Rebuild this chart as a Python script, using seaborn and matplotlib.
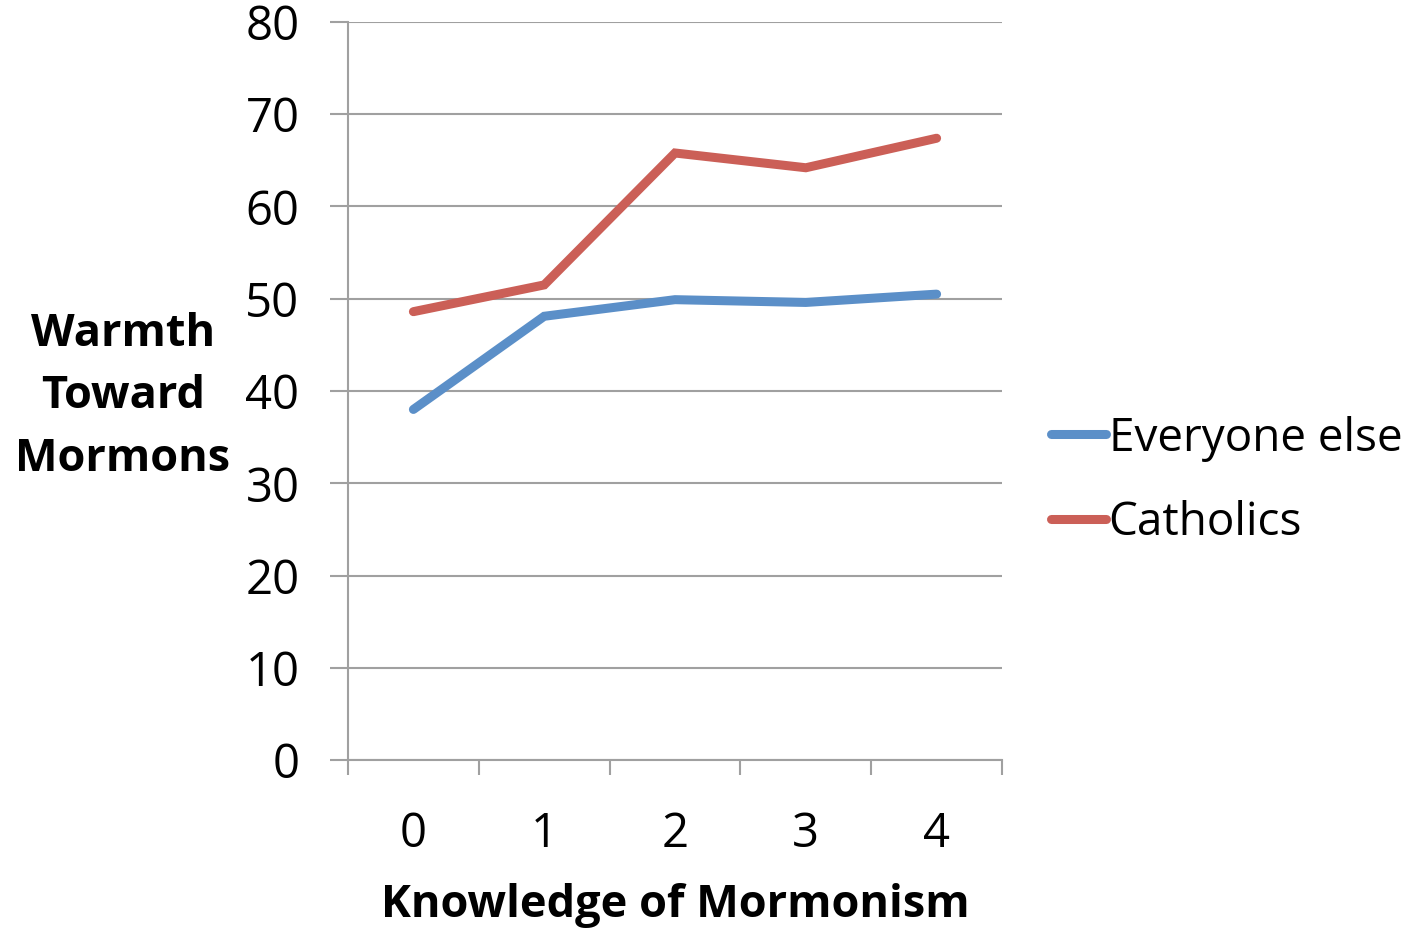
import pandas as pd
import matplotlib
matplotlib.use("Agg")
import matplotlib.pyplot as plt
import seaborn as sns
from matplotlib.ticker import FixedLocator, NullFormatter

# data
knowledge = [0, 1, 2, 3, 4]
everyone_else = [38.0, 48.1, 49.9, 49.6, 50.5]
catholics = [48.6, 51.5, 65.8, 64.2, 67.4]
series_names = ["Everyone else", "Catholics"]
colors = ["#5B8FC8", "#CB5F57"]
y_ticks = [0, 10, 20, 30, 40, 50, 60, 70, 80]

df = pd.DataFrame({
    "knowledge": knowledge * 2,
    "warmth": everyone_else + catholics,
    "group": [series_names[0]] * 5 + [series_names[1]] * 5,
})

sns.set_style("white")
plt.rcParams["font.family"] = ["Open Sans", "DejaVu Sans"]
plt.rcParams["text.color"] = "black"
plt.rcParams["xtick.labelcolor"] = "black"
plt.rcParams["ytick.labelcolor"] = "black"

fig = plt.figure(figsize=(14.14, 9.30), dpi=100)
ax = fig.add_axes([348 / 1414, 1 - 760 / 930, (1002 - 348) / 1414, (760 - 22) / 930])

sns.lineplot(data=df, x="knowledge", y="warmth", hue="group",
             palette=dict(zip(series_names, colors)), linewidth=6.5,
             solid_capstyle="round", solid_joinstyle="miter", legend=False, ax=ax)

grid_col = "#A0A0A0"
ax.set_ylim(0, 80)
ax.set_xlim(-0.5, 4.5)
ax.set_yticks(y_ticks)
ax.set_yticklabels([str(v) for v in y_ticks])
ax.yaxis.grid(True, color=grid_col, linewidth=1.5)
ax.set_axisbelow(True)

# category ticks between bins, labels centred in bins
ax.xaxis.set_major_locator(FixedLocator([-0.5, 0.5, 1.5, 2.5, 3.5, 4.5]))
ax.xaxis.set_major_formatter(NullFormatter())
ax.xaxis.set_minor_locator(FixedLocator(knowledge))
ax.set_xticklabels([str(k) for k in knowledge], minor=True)
ax.tick_params(axis="x", which="major", length=11, width=1.5, color=grid_col, direction="out")
ax.tick_params(axis="x", which="minor", length=0, pad=36, labelsize=34)
ax.tick_params(axis="y", length=13, width=1.5, color=grid_col, pad=22, labelsize=34)
ax.tick_params(left=True, bottom=True)
ax.tick_params(axis="x", which="minor", bottom=True)

for side in ["top", "right"]:
    ax.spines[side].set_visible(False)
for side in ["left", "bottom"]:
    ax.spines[side].set_color(grid_col)
    ax.spines[side].set_linewidth(1.5)
ax.set_xlabel("")
ax.set_ylabel("")

fig.text(675 / 1414, 1 - 905 / 930, "Knowledge of Mormonism", ha="center", va="center",
         fontsize=32.5, fontweight="bold")
fig.text(123 / 1414, 1 - 397 / 930, "Warmth\nToward\nMormons", ha="center", va="center",
         multialignment="center", fontsize=32.5, fontweight="bold", linespacing=1.52)

handles = [plt.Line2D([], [], color=c, linewidth=6.5, solid_capstyle="round") for c in colors]
fig.legend(handles, series_names, loc="center left", bbox_to_anchor=(1033 / 1414, 1 - 481 / 930),
           frameon=False, fontsize=33, handlelength=1.2, handletextpad=0.05, labelspacing=0.85,
           borderaxespad=0)

fig.savefig("out.png", dpi=100)
